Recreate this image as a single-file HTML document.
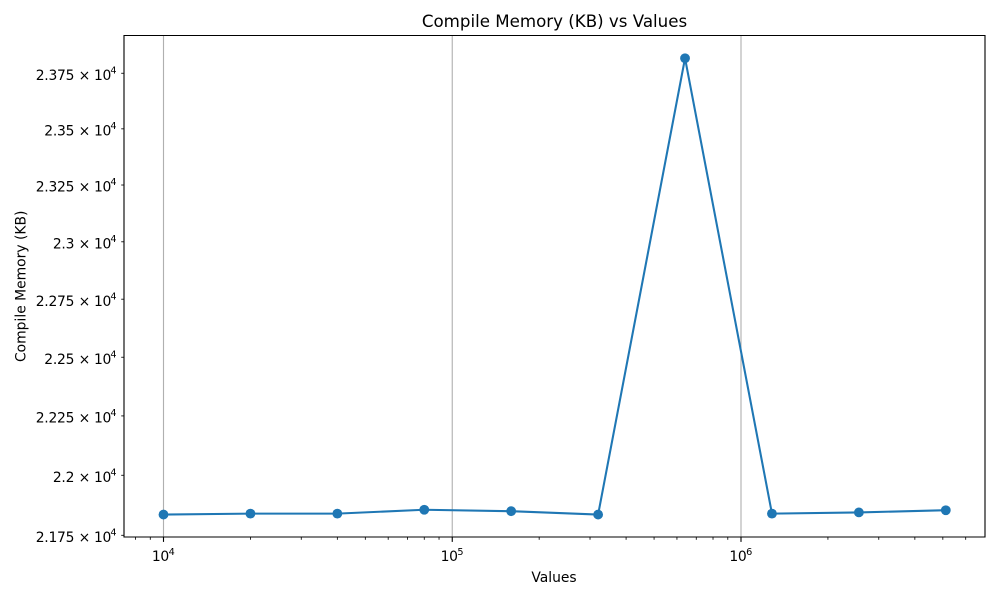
<!DOCTYPE html>
<html>
<head>
<meta charset="utf-8">
<style>
html,body{margin:0;padding:0;background:#fff;}
svg{display:block;}
text{font-family:"DejaVu Sans","Liberation Sans",sans-serif;fill:#000;}
</style>
</head>
<body>
<svg id="chart" xmlns="http://www.w3.org/2000/svg" width="1000" height="600" viewBox="0 0 1000 600">
<rect x="0" y="0" width="1000" height="600" fill="#fff"/>
<rect x="124" y="35.5" width="861" height="501.5" fill="#fff"/>
<g id="grid"></g>
<g id="series"></g>
<g id="spines">
<line x1="124" y1="35" x2="124" y2="537.5" stroke="#000" stroke-width="1.11"/>
<line x1="985" y1="35" x2="985" y2="537.5" stroke="#000" stroke-width="1.11"/>
<line x1="123.5" y1="35.5" x2="985.5" y2="35.5" stroke="#000" stroke-width="1.11"/>
<line x1="123.5" y1="537" x2="985.5" y2="537" stroke="#000" stroke-width="1.11"/>
</g>
<g id="xticks"></g>
<g id="yticks"></g>
<text x="554.5" y="27" font-size="16.67" text-anchor="middle">Compile Memory (KB) vs Values</text>
<text x="554" y="582" font-size="13.89" text-anchor="middle">Values</text>
<text x="0" y="0" font-size="13.89" text-anchor="middle" transform="translate(25.5,286.3) rotate(-90)">Compile Memory (KB)</text>
</svg>
<script>
const xValues = [10000, 20000, 40000, 80000, 160000, 320000, 640000, 1280000, 2560000, 5120000];
const memoryValues = [21836, 21840, 21840, 21856, 21850, 21836, 23818, 21840, 21845, 21854];
const xMajorTicks = [10000, 100000, 1000000];
const xMajorExponents = ["4", "5", "6"];
const xMinorTicks = [8000, 9000, 20000, 30000, 40000, 50000, 60000, 70000, 80000, 90000, 200000, 300000, 400000, 500000, 600000, 700000, 800000, 900000, 2000000, 3000000, 4000000, 5000000, 6000000];
const yTicks = [21750, 22000, 22250, 22500, 22750, 23000, 23250, 23500, 23750];
const yTickMantissas = ["2.175", "2.2", "2.225", "2.25", "2.275", "2.3", "2.325", "2.35", "2.375"];

const NS = 'http://www.w3.org/2000/svg';
function xScale(v) { return 163.5 + (Math.log10(v) - 4) * 288.75; }
function yScale(v) { return 535.3 - Math.log10(v / 21750) * 12094; }
function make(tag, attrs, parent) {
  const el = document.createElementNS(NS, tag);
  for (const k in attrs) el.setAttribute(k, attrs[k]);
  parent.appendChild(el);
  return el;
}
const gridG = document.getElementById('grid');
const seriesG = document.getElementById('series');
const xtG = document.getElementById('xticks');
const ytG = document.getElementById('yticks');

xMajorTicks.forEach(function (v, i) {
  const x = xScale(v);
  const g = make('line', {x1: x, x2: x, y1: 35.5, y2: 537, stroke: '#b0b0b0', 'stroke-width': 1.11}, gridG);
  
  
  const t = make('line', {x1: x, x2: x, y1: 537, y2: 541.9, stroke: '#000', 'stroke-width': 1.11}, xtG);
  
  
  const label = make('text', {x: x - 11.6, y: 561, 'font-size': 13.89, 'letter-spacing': -0.3}, xtG);
  
  
  label.textContent = '10';
  const sup = make('text', {x: x + 5.1, y: 555, 'font-size': 9.7}, xtG);
  
  
  sup.textContent = xMajorExponents[i];
});

xMinorTicks.forEach(function (v) {
  const x = xScale(v);
  const t = make('line', {x1: x, x2: x, y1: 537, y2: 539.8, stroke: '#000', 'stroke-width': 0.83}, xtG);
  
  
});

yTicks.forEach(function (v, i) {
  const y = yScale(v);
  const t = make('line', {x1: 124, x2: 121.2, y1: y, y2: y, stroke: '#000', 'stroke-width': 0.83}, ytG);
  
  
  const exp = make('text', {x: 116.6, y: y + 0.1, 'font-size': 9.7, 'text-anchor': 'end'}, ytG);
  
  
  exp.textContent = '4';
  const ten = make('text', {x: 111, y: y + 6.6, 'font-size': 13.89, 'text-anchor': 'end', 'letter-spacing': -0.3}, ytG);
  
  
  ten.textContent = '10';
  const times = make('text', {x: 84.5, y: y + 6.6, 'font-size': 13.89, 'text-anchor': 'middle'}, ytG);
  
  
  times.textContent = '\u00d7';
  const label = make('text', {x: 74.2, y: y + 6.6, 'font-size': 13.89, 'text-anchor': 'end', 'letter-spacing': -0.25}, ytG);
  
  
  label.textContent = yTickMantissas[i];
});

const points = xValues.map(function (v, i) { return xScale(v) + ',' + yScale(memoryValues[i]); }).join(' ');
const line = make('polyline', {points: points, fill: 'none', stroke: '#1f77b4', 'stroke-width': 2.08, 'stroke-linejoin': 'round', 'stroke-linecap': 'square'}, seriesG);


xValues.forEach(function (v, i) {
  const c = make('circle', {cx: xScale(v), cy: yScale(memoryValues[i]), r: 4.9, fill: '#1f77b4'}, seriesG);
  
  
});
</script>
</body>
</html>
